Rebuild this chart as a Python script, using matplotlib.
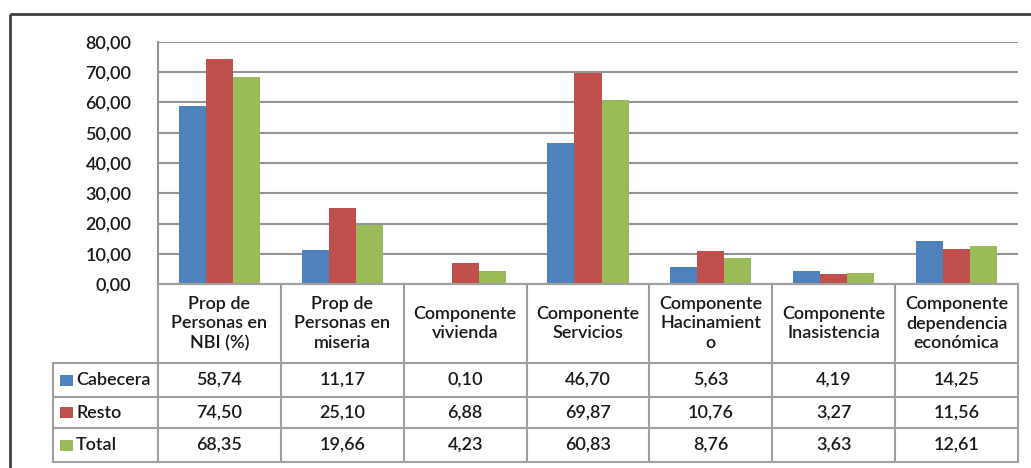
import numpy as np
import matplotlib
matplotlib.use("Agg")
import matplotlib.pyplot as plt
from matplotlib.ticker import FuncFormatter

categories = ["Prop de\nPersonas en\nNBI (%)", "Prop de\nPersonas en\nmiseria",
              "Componente\nvivienda", "Componente\nServicios",
              "Componente\nHacinamient\no", "Componente\nInasistencia",
              "Componente\ndependencia\neconómica"]
series_names = ["Cabecera", "Resto", "Total"]
cabecera = [58.74, 11.17, 0.10, 46.70, 5.63, 4.19, 14.25]
resto = [74.50, 25.10, 6.88, 69.87, 10.76, 3.27, 11.56]
total = [68.35, 19.66, 4.23, 60.83, 8.76, 3.63, 12.61]
yticks = [0, 10, 20, 30, 40, 50, 60, 70, 80]
colors = ["#4F81BD", "#C0504D", "#9BBB59"]

plt.rcParams['font.family'] = ['Lato', 'DejaVu Sans']
plt.rcParams['font.weight'] = 'semibold'
W, H = 1031, 468
fig = plt.figure(figsize=(W / 100, H / 100), dpi=100)
fig.patch.set_facecolor("white")

x_left, x_right = 158, 1018
y_top, y_zero = 42, 284
ax = fig.add_axes([x_left / W, (H - y_zero) / H, (x_right - x_left) / W, (y_zero - y_top) / H])

grid_c = "#949494"
xs = np.arange(len(categories))
bw = 0.22
for i, (vals, c) in enumerate(zip([cabecera, resto, total], colors)):
    ax.bar(xs + (i - 1) * bw, vals, width=bw, color=c, zorder=3, linewidth=0)

fs = 13.0
tc = "#1a1a1a"

ax.set_xlim(-0.5, len(categories) - 0.5)
ax.set_ylim(0, 80)
ax.set_yticks(yticks)
ax.yaxis.set_major_formatter(FuncFormatter(lambda v, p: f"{v:.2f}".replace(".", ",")))
ax.tick_params(axis='y', length=0, pad=19, labelsize=fs, labelcolor=tc)
ax.set_xticks([])
ax.yaxis.grid(True, color=grid_c, lw=1.5, zorder=0)
ax.set_axisbelow(True)
for s in ["top", "right"]:
    ax.spines[s].set_visible(False)
ax.spines["left"].set_color(grid_c)
ax.spines["left"].set_linewidth(1.5)
ax.spines["bottom"].set_color(grid_c)
ax.spines["bottom"].set_linewidth(1.5)

# data table overlay in pixel coordinates
tab = fig.add_axes([0, 0, 1, 1], facecolor="none")
tab.set_xlim(0, W)
tab.set_ylim(H, 0)
tab.axis("off")

col_edges = np.linspace(x_left, x_right, len(categories) + 1)
row_edges = [363, 397, 428, 462]
leg_left = 53
lc = "#a0a0a0"
lw = 1.5
tab.plot([x_left, x_right], [y_zero, y_zero], color=lc, lw=lw)
for y in row_edges:
    tab.plot([leg_left, x_right], [y, y], color=lc, lw=lw)
tab.plot([leg_left, leg_left], [row_edges[0], row_edges[-1]], color=lc, lw=lw)
for xe in col_edges:
    tab.plot([xe, xe], [y_zero, row_edges[-1]], color=lc, lw=lw)

centers = (col_edges[:-1] + col_edges[1:]) / 2
hdr_y = (y_zero + row_edges[0]) / 2
for cx, lab in zip(centers, categories):
    tab.text(cx, hdr_y, lab, ha="center", va="center", fontsize=fs, color=tc,
             linespacing=1.25)

for r, (name, vals, c) in enumerate(zip(series_names, [cabecera, resto, total], colors)):
    ry = (row_edges[r] + row_edges[r + 1]) / 2
    tab.add_patch(plt.Rectangle((60, ry - 5.5), 13, 11, color=c, lw=0))
    tab.text(76, ry, name, ha="left", va="center", fontsize=fs, color=tc)
    for cx, v in zip(centers, vals):
        tab.text(cx, ry, f"{v:.2f}".replace(".", ","), ha="center", va="center",
                 fontsize=fs, color=tc)

fc = "#404040"
tab.plot([10, 10], [H, 14], color=fc, lw=2, solid_capstyle="butt")
tab.plot([10, W], [14, 14], color=fc, lw=2, solid_capstyle="butt")

fig.savefig("out.png", dpi=100)
